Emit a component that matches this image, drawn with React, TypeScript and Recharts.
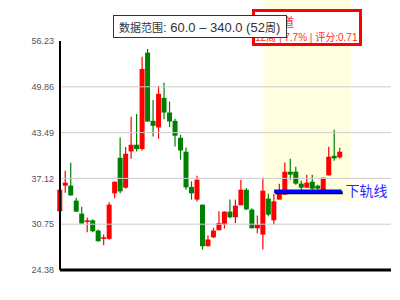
import React from 'react';
import { ComposedChart, Bar, XAxis, YAxis, ReferenceLine, ReferenceArea } from 'recharts';

// 52 weekly candles, index 0..51
const weeks = Array.from({ length: 52 }, (_, i) => i);
const opens = [
  32.54, 36.11, 36.11, 34.03, 32.22, 31.07, 31.29, 29.86, 28.71, 28.71,
  35.04, 39.99, 35.83, 40.87, 41.8, 41.2, 54.61, 45.13, 44.2, 48.32,
  46.28, 45.13, 42.77, 40.83, 35.93, 34.17, 33.47, 27.69, 28.93, 29.91,
  30.7, 32.5, 31.71, 33.38, 35.55, 32.78, 30.18, 29.31, 34.3, 31.29,
  34.17, 34.86, 38.05, 38.05, 36.39, 35.83, 36.66, 36.11, 35.41, 37.54,
  40.27, 40.04,
];
const closes = [
  35.55, 36.52, 34.76, 32.5, 30.84, 31.29, 29.77, 28.38, 28.93, 33.47,
  36.66, 35.32, 40.55, 41.8, 41.2, 52.34, 45.03, 44.43, 48.88, 46.28,
  45.03, 43.05, 41.01, 35.87, 35.04, 36.94, 27.69, 28.62, 29.86, 30.93,
  32.5, 31.71, 33.33, 35.55, 32.82, 30.18, 30.7, 35.41, 32.08, 33.93,
  34.96, 38.05, 37.64, 36.39, 35.83, 36.52, 35.69, 35.69, 37.22, 40.13,
  39.9, 40.83,
];
const highs = [
  35.6, 38.19, 39.3, 34.44, 33.19, 31.67, 31.39, 30.0, 29.31, 33.79,
  36.7, 42.81, 41.48, 45.68, 46.06, 54.05, 55.12, 48.04, 49.99, 50.44,
  47.81, 45.41, 43.19, 41.42, 36.71, 37.5, 33.47, 29.17, 30.24, 32.54,
  32.54, 34.17, 34.17, 36.94, 35.79, 32.96, 31.95, 37.22, 35.0, 35.0,
  36.39, 39.34, 39.86, 38.75, 36.8, 37.64, 37.64, 36.25, 37.22, 41.52,
  43.88, 41.38,
];
const lows = [
  32.5, 35.14, 34.72, 32.45, 30.8, 29.63, 29.63, 28.34, 27.82, 28.6,
  34.35, 35.04, 35.69, 39.86, 40.87, 41.01, 45.0, 42.95, 42.63, 45.36,
  44.25, 41.56, 39.72, 35.55, 34.17, 33.89, 27.23, 27.65, 28.8, 29.91,
  30.14, 31.57, 30.88, 33.38, 32.68, 30.18, 29.49, 27.23, 31.85, 30.7,
  34.17, 34.86, 36.94, 36.25, 35.51, 35.83, 35.55, 35.55, 35.28, 37.54,
  39.58, 39.86,
];

const yTicks = [24.38, 30.75, 37.12, 43.49, 49.86, 56.23];
const gridValues = [30.75, 37.12, 43.49, 49.86];

const data = weeks.map((w, i) => ({
  idx: w,
  open: opens[i],
  close: closes[i],
  high: highs[i],
  low: lows[i],
}));

const Candle = (props: any) => {
  const { x, y, width, height, payload } = props;
  if (!payload) return null;
  const { open, close, high, low } = payload;
  const color = close >= open ? '#ff0000' : '#008000';
  const ratio = height / (high - low || 1);
  const bodyTop = y + (high - Math.max(open, close)) * ratio;
  const bodyH = Math.max(Math.abs(open - close) * ratio, 1.5);
  const cx = x + width / 2;
  return (
    <g>
      <line x1={cx} x2={cx} y1={y} y2={y + height} stroke={color} strokeWidth={1.2} />
      <rect x={x} y={bodyTop} width={width} height={bodyH} fill={color} />
    </g>
  );
};

export default function App() {
  return (
    <div
      style={{
        position: 'absolute',
        left: 0,
        top: 0,
        width: 400,
        height: 300,
        background: '#fff',
        fontFamily: 'Arial, "Noto Sans CJK SC", sans-serif',
      }}
    >
      <ComposedChart width={400} height={300} data={data} margin={{ top: 41, right: 9, bottom: 0, left: 0 }}>
        <ReferenceArea
          x1={37}
          x2={53}
          y1={33.84}
          y2={61.92}
          ifOverflow="visible"
          fill="#ffffe0"
          fillOpacity={1}
          stroke="none"
        />
        {gridValues.map((v) => (
          <ReferenceLine key={v} y={v} stroke="#cccccc" strokeWidth={1} />
        ))}
        <XAxis
          type="number"
          dataKey="idx"
          domain={[0, 60.3]}
          tick={false}
          tickLine={false}
          axisLine={{ stroke: '#000', strokeWidth: 3 }}
          height={30}
        />
        <YAxis
          type="number"
          domain={[24.38, 56.23]}
          ticks={yTicks}
          interval={0}
          width={60}
          tickLine={false}
          tickSize={6}
          tickMargin={0}
          axisLine={{ stroke: '#000', strokeWidth: 2 }}
          tick={{ fill: '#555', fontSize: 9 }}
        />
        <Bar
          dataKey={(d: any) => [d.low, d.high]}
          barSize={5}
          shape={<Candle />}
          isAnimationActive={false}
        />
        <ReferenceLine
          segment={[{ x: 39.2, y: 35.12 }, { x: 51.5, y: 35.12 }]}
          stroke="#000"
          strokeWidth={3}
        />
        <ReferenceLine
          segment={[{ x: 39, y: 35.33 }, { x: 51.3, y: 35.33 }]}
          stroke="#0000ff"
          strokeWidth={3.5}
          label={{ value: '下轨线', position: 'right', offset: 4, fill: '#2a2aff', fontSize: 14 }}
        />
      </ComposedChart>

      {/* red info box */}
      <div
        style={{
          position: 'absolute',
          left: 252,
          top: 9,
          width: 110,
          height: 37,
          boxSizing: 'border-box',
          border: '3px solid #ff0000',
          background: '#fff',
          overflow: 'hidden',
          color: '#ff2a2a',
        }}
      >
        <div style={{ position: 'absolute', left: -9, top: 4, fontSize: 12, lineHeight: '14px', whiteSpace: 'nowrap' }}>
          低位通道
        </div>
        <div style={{ position: 'absolute', left: 0, top: 20, fontSize: 10, lineHeight: '12px', whiteSpace: 'nowrap' }}>
          12周 | 7.7% | 评分:0.71
        </div>
      </div>

      {/* data range box */}
      <div
        style={{
          position: 'absolute',
          left: 113,
          top: 15,
          width: 174,
          height: 23,
          boxSizing: 'border-box',
          border: '1px solid #333',
          background: '#fff',
          color: '#333',
          paddingLeft: 5,
          lineHeight: '21px',
          whiteSpace: 'nowrap',
        }}
      >
        <span style={{ fontSize: 11 }}>数据范围</span>
        <span style={{ fontSize: 13 }}>: 60.0 – 340.0 (52</span>
        <span style={{ fontSize: 11 }}>周</span>
        <span style={{ fontSize: 13 }}>)</span>
      </div>
    </div>
  );
}
